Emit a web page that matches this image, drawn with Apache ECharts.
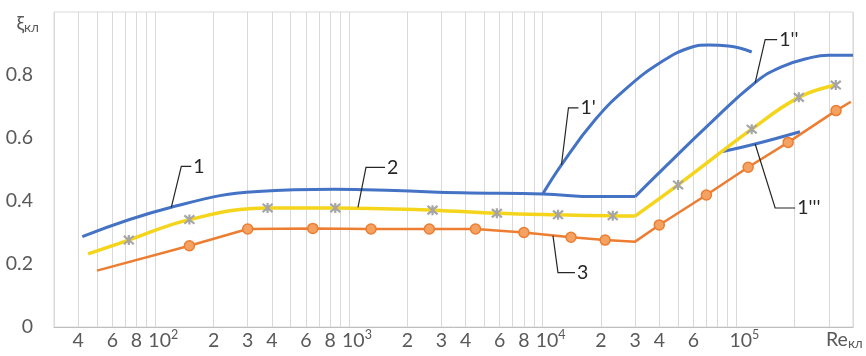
<!DOCTYPE html>
<html>
<head>
<meta charset="utf-8">
<script src="https://cdn.jsdelivr.net/npm/echarts@6/dist/echarts.min.js"></script>
<style>
  html, body { margin: 0; padding: 0; background: #ffffff; }
  #chart { width: 866px; height: 356px; }
</style>
</head>
<body>
<div id="chart"></div>
<script>
// ξ_кл against Re_кл, points given as [Re, ξ]
const curve1 = [[42, 0.287], [121, 0.38], [339, 0.43], [843, 0.437], [1722, 0.433], [3800, 0.426], [10000, 0.422], [19000, 0.414], [30000, 0.414]];
const curve1p = [[10000, 0.422], [12500, 0.515], [18600, 0.657], [27700, 0.763], [41100, 0.842], [56500, 0.885], [71600, 0.895], [91000, 0.892], [120000, 0.873]];
const curve1pp = [[30000, 0.414], [43000, 0.509], [71600, 0.641], [125000, 0.776], [171000, 0.826], [245000, 0.856], [298000, 0.863], [400000, 0.863]];
const curve1ppp = [[85000, 0.557], [125000, 0.581], [213000, 0.62]];
const curve2Low = [[45, 0.232], [73, 0.276], [150, 0.341], [380, 0.378], [850, 0.378], [2700, 0.371], [5800, 0.361], [12000, 0.356], [23000, 0.353], [30000, 0.352]];
const curve2High = [[30000, 0.352], [50000, 0.451], [120000, 0.628], [210000, 0.729], [326000, 0.768]];
const curve3 = [[50, 0.179], [150, 0.258], [300, 0.311], [650, 0.313], [1300, 0.311], [2600, 0.311], [4500, 0.311], [8000, 0.30], [14000, 0.285], [21000, 0.276], [30000, 0.271], [40000, 0.324], [70000, 0.419], [115000, 0.507], [185000, 0.586], [327000, 0.687], [390000, 0.715]];
// Re values of points drawn without a marker
const plain2 = [45, 30000];
const plain3 = [50, 30000, 390000];

// axis ticks
const xTickValues = [40, 60, 80, 100, 200, 300, 400, 600, 800, 1000, 2000, 3000, 4000, 6000, 8000, 10000, 20000, 30000, 40000, 60000, 80000, 100000];
const xTickLabels = ['4', '6', '8', '10²', '2', '3', '4', '6', '8', '10³', '2', '3', '4', '6', '8', '10⁴', '2', '3', '4', '6', '8', '10⁵'];
const yTickValues = [0, 0.2, 0.4, 0.6, 0.8];
const xRange = [30, 400000];
const yRange = [0, 1];

// vertical grid at every 1..9 × 10^k inside the range
const xGridValues = [];
for (let p = 10; p <= 100000; p *= 10) {
  for (let k = 1; k <= 9; k++) {
    const v = k * p;
    if (v >= xRange[0] && v <= xRange[1]) xGridValues.push(v);
  }
}

const FONT = 'Lato, "Open Sans", sans-serif';
const FS = 19.5;
const LABEL = '#595959';
const INK = '#262626';
const BLUE = '#4472c4';
const YELLOW = '#f5d51c';
const ORANGE = '#ed7d31';
const GREY = '#a5a5a5';
const SUP = { '²': '2', '³': '3', '⁴': '4', '⁵': '5' };
const STAR = 'path://M0 1L10 11M10 1L0 11M5 0L5 12';

// decade labels get a raised exponent and a small leading gap
function xLabel(value) {
  const i = xTickValues.findIndex(v => Math.abs(v - value) / v < 1e-6);
  if (i < 0) return '';
  const t = xTickLabels[i];
  const m = t.match(/^10([²³⁴⁵])$/);
  if (m) return '{g| }{m|10}{e|' + SUP[m[1]] + '}';
  return '{m|' + t + '}';
}

function marked(points, plain) {
  return points.map(p => plain.indexOf(p[0]) >= 0 ? { value: p, symbol: 'none' } : { value: p });
}

function blueLine(name, data) {
  return {
    name, type: 'line', data, smooth: 0.45, showSymbol: false, symbol: 'none',
    lineStyle: { color: BLUE, width: 3 }, itemStyle: { color: BLUE }, z: 3
  };
}

function yellowLine(data) {
  return {
    name: '2', type: 'line', data: marked(data, plain2), smooth: 0.4,
    symbol: STAR, symbolSize: 10,
    lineStyle: { color: YELLOW, width: 3.5 },
    itemStyle: { color: GREY, borderColor: GREY, borderWidth: 2.2 }, z: 4
  };
}

const chart = echarts.init(document.getElementById('chart'));

chart.setOption({
  animation: false,
  backgroundColor: '#ffffff',
  textStyle: { fontFamily: FONT },
  grid: {
    left: 54, right: 13, top: 12, bottom: 29,
    show: true, borderColor: '#d9d9d9', borderWidth: 1,
    outerBoundsMode: 'none'
  },
  xAxis: {
    type: 'log', logBase: 10, min: xRange[0], max: xRange[1],
    name: '{a|Re}{b|кл}', nameLocation: 'end', nameGap: -27, nameMoveOverlap: false,
    nameTextStyle: {
      align: 'left', verticalAlign: 'top', padding: [3, 0, 0, 0], color: LABEL,
      rich: {
        a: { fontFamily: FONT, fontSize: FS, color: LABEL, verticalAlign: 'bottom', padding: [0, 0, 1, 0] },
        b: { fontFamily: FONT, fontSize: 13.5, color: LABEL, verticalAlign: 'bottom' }
      }
    },
    axisLine: { show: true, lineStyle: { color: '#bfbfbf', width: 1 } },
    axisTick: { show: false, customValues: xGridValues },
    splitLine: { show: true, lineStyle: { color: '#d9d9d9', width: 1 } },
    minorSplitLine: { show: false },
    axisLabel: {
      customValues: xTickValues, formatter: xLabel, margin: 1, color: LABEL,
      hideOverlap: false, showMinLabel: true, showMaxLabel: true,
      rich: {
        g: { width: 16 },
        m: { fontFamily: FONT, fontSize: FS, color: LABEL, verticalAlign: 'bottom', padding: [3, 0, 0, 0] },
        e: { fontFamily: FONT, fontSize: 12.5, color: LABEL, verticalAlign: 'top' }
      }
    }
  },
  yAxis: {
    type: 'value', min: yRange[0], max: yRange[1], interval: 0.2,
    name: '{a|ξ}{b|кл}', nameLocation: 'end', nameGap: -12, nameMoveOverlap: false,
    nameTextStyle: {
      align: 'right', verticalAlign: 'middle', padding: [0, 15, 0, 0], color: LABEL,
      rich: {
        a: { fontFamily: FONT, fontSize: FS, color: LABEL, verticalAlign: 'bottom', padding: [0, 0, 1, 0] },
        b: { fontFamily: FONT, fontSize: 13.5, color: LABEL, verticalAlign: 'bottom' }
      }
    },
    axisLine: { show: false },
    axisTick: { show: false },
    splitLine: { show: false },
    axisLabel: {
      customValues: yTickValues, margin: 21, color: LABEL,
      fontFamily: FONT, fontSize: FS
    }
  },
  series: [
    blueLine('1', curve1),
    blueLine("1'", curve1p),
    blueLine("1''", curve1pp),
    blueLine("1'''", curve1ppp),
    yellowLine(curve2Low),
    yellowLine(curve2High),
    {
      name: '3', type: 'line', data: marked(curve3, plain3), smooth: false,
      symbol: 'circle', symbolSize: 10,
      lineStyle: { color: ORANGE, width: 2.5 },
      itemStyle: { color: '#f4a261', borderColor: ORANGE, borderWidth: 1.5 }, z: 5
    }
  ]
});

// curve numbers with bent leader lines, anchored on the curves
const callouts = [
  { text: '1', at: [121, 0.38], bend: [10, -41], run: 10 },
  { text: '2', at: [1113, 0.38], bend: [8, -40], run: 19 },
  { text: '3', at: [11300, 0.29], bend: [5, 37], run: 17 },
  { text: "1'", at: [12500, 0.515], bend: [7, -57], run: 10 },
  { text: "1''", at: [125000, 0.776], bend: [10, -43], run: 12 },
  { text: "1'''", at: [125000, 0.581], bend: [20, 64], run: 20 }
];

const graphics = [];
callouts.forEach(c => {
  const p = chart.convertToPixel({ gridIndex: 0 }, c.at);
  const b = [p[0] + c.bend[0], p[1] + c.bend[1]];
  const e = [b[0] + c.run, b[1]];
  graphics.push({
    type: 'polyline', silent: true, z: 10,
    shape: { points: [p, b, e] },
    style: { stroke: INK, lineWidth: 1.2, fill: null }
  });
  graphics.push({
    type: 'text', silent: true, z: 10,
    x: e[0] + 2, y: e[1],
    style: { text: c.text, fill: INK, font: FS + 'px ' + FONT, align: 'left', verticalAlign: 'middle' }
  });
});
chart.setOption({ graphic: graphics });
</script>
</body>
</html>
